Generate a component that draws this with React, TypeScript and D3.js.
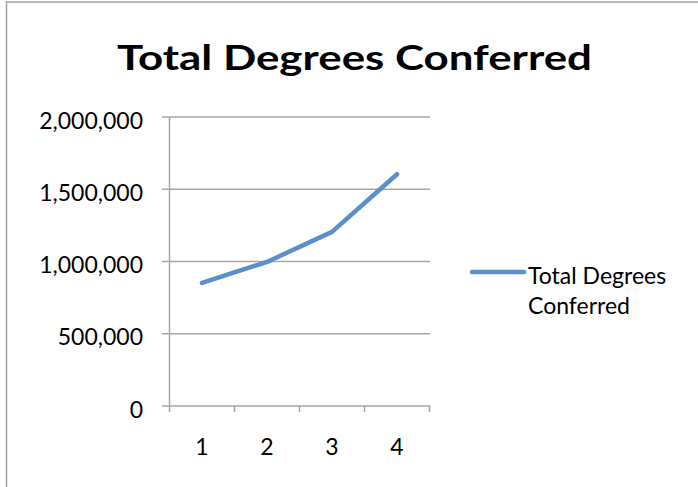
import React from "react";
import * as d3 from "d3";

const categories = ["1", "2", "3", "4"];
const values = [852000, 997000, 1205000, 1604000];
const yTicks = [0, 500000, 1000000, 1500000, 2000000];
const title = "Total Degrees Conferred";
const seriesName = ["Total Degrees", "Conferred"];

const W = 698;
const H = 487;
const FONT = "Lato, 'Open Sans', 'Liberation Sans', sans-serif";

export default function App() {
  const x = d3.scaleBand<string>().domain(categories).range([169.5, 429.5]);
  const y = d3.scaleLinear().domain([0, 2000000]).range([406, 117]);
  const fmt = d3.format(",");
  const line = d3
    .line<number>()
    .x((_, i) => (x(categories[i]) as number) + x.bandwidth() / 2)
    .y((d) => y(d));
  const grid = "#a6a6a6";
  return (
    <svg
      width={W}
      height={H}
      style={{ position: "absolute", left: 0, top: 0, background: "#fff" }}
    >
      <rect x={6.5} y={2} width={W + 10} height={H + 10} fill="none" stroke="#a0a0a0" strokeWidth={1.5} />
      <text
        x={117}
        y={69.5}
        fontFamily={FONT}
        fontWeight={700}
        fontSize={34}
        textLength={475}
        lengthAdjust="spacingAndGlyphs"
        fill="#000"
      >
        {title}
      </text>
      {yTicks.map((t) => (
        <g key={t}>
          <line x1={162} x2={430} y1={y(t)} y2={y(t)} stroke={grid} strokeWidth={1.5} />
          <text x={143} y={y(t) + 11.5} textAnchor="end" fontFamily={FONT} fontSize={23} fill="#000">
            {fmt(t)}
          </text>
        </g>
      ))}
      <line x1={169.5} x2={169.5} y1={117} y2={406} stroke={grid} strokeWidth={1.5} />
      {[...categories.map((c) => x(c) as number), 429.5].map((px, i) => (
        <line key={i} x1={px} x2={px} y1={406} y2={412} stroke={grid} strokeWidth={1.5} />
      ))}
      {categories.map((c) => (
        <text
          key={c}
          x={(x(c) as number) + x.bandwidth() / 2}
          y={455}
          textAnchor="middle"
          fontFamily={FONT}
          fontSize={23}
          fill="#000"
        >
          {c}
        </text>
      ))}
      <path
        d={line(values) || ""}
        fill="none"
        stroke="#5b8fc9"
        strokeWidth={4.5}
        strokeLinecap="round"
        strokeLinejoin="round"
      />
      <line x1={472} x2={524} y1={272} y2={272} stroke="#5b8fc9" strokeWidth={4.5} strokeLinecap="round" />
      <text x={528} y={283.5} fontFamily={FONT} fontSize={23} fill="#000">
        {seriesName[0]}
      </text>
      <text x={528} y={314} fontFamily={FONT} fontSize={23} fill="#000">
        {seriesName[1]}
      </text>
    </svg>
  );
}
